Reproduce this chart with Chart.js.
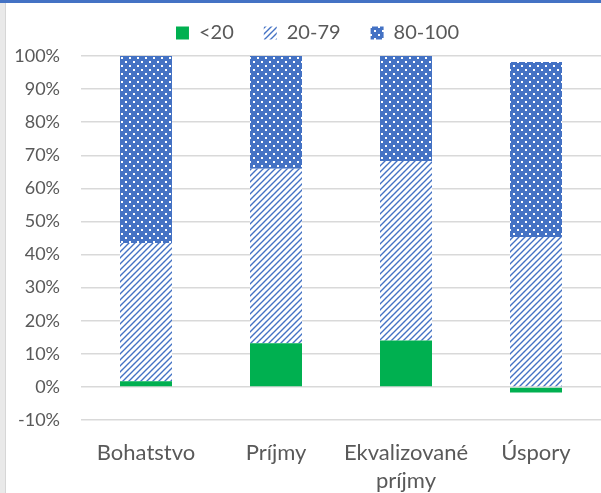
<!DOCTYPE html>
<html>
<head>
<meta charset="utf-8">
<script src="https://cdn.jsdelivr.net/npm/chart.js@4.4.1/dist/chart.umd.min.js"></script>
<style>
  html, body { margin: 0; padding: 0; background: #fff; }
  #wrap { position: relative; width: 601px; height: 493px; overflow: hidden; }
  #wrap canvas { position: absolute; left: 0; top: 0; }
  .edge-top { position: absolute; left: 0; top: 0; width: 601px; height: 3px; background: #4472C4; }
  .edge-left { position: absolute; left: 0; top: 3px; width: 5px; height: 490px; background: #e9e9e9; border-right: 1px solid #d6d6d6; }
</style>
</head>
<body>
<div id="wrap">
  <canvas id="c" width="601" height="493"></canvas>
  <div class="edge-top"></div>
  <div class="edge-left"></div>
</div>
<script>
// Categories and shares (percent) per income band
const categories = ['Bohatstvo', 'Príjmy', ['Ekvalizované', 'príjmy'], 'Úspory'];
const seriesNames = ['<20', '20-79', '80-100'];
const under20 = [1.7, 13.2, 14.0, -1.7];
const mid20to79 = [41.8, 52.7, 54.3, 45.3];
const top80to100 = [56.5, 34.1, 31.7, 52.9];
const yTicks = [-10, 0, 10, 20, 30, 40, 50, 60, 70, 80, 90, 100];

const BLUE = '#4472C4';
const GREEN = '#00B050';
const TEXT = '#595959';

// White dots on blue fill
function dotPattern() {
  const t = document.createElement('canvas');
  t.width = 8; t.height = 8;
  const g = t.getContext('2d');
  g.fillStyle = BLUE; g.fillRect(0, 0, 8, 8);
  g.fillStyle = '#ffffff';
  g.fillRect(1, 1, 2, 2);
  g.fillRect(5, 5, 2, 2);
  return g.createPattern(t, 'repeat');
}

// Blue upward diagonal stripes on white
function stripePattern() {
  const n = 6;
  const t = document.createElement('canvas');
  t.width = n; t.height = n;
  const g = t.getContext('2d');
  g.fillStyle = '#ffffff'; g.fillRect(0, 0, n, n);
  g.strokeStyle = BLUE; g.lineWidth = 1.4;
  g.beginPath();
  g.moveTo(-1, n + 1); g.lineTo(n + 1, -1);
  g.moveTo(-1, 1); g.lineTo(1, -1);
  g.moveTo(n - 1, n + 1); g.lineTo(n + 1, n - 1);
  g.stroke();
  return g.createPattern(t, 'repeat');
}

// Fixed legend band height and a small offset for where the legend row sits
const legendTweak = {
  id: 'legendTweak',
  afterInit(chart) {
    const lg = chart.legend;
    if (!lg) return;
    const fit = lg.fit;
    lg.fit = function () { fit.call(this); this.height = 56; };
    const draw = lg.draw;
    lg.draw = function (area) {
      const c = this.ctx;
      c.save();
      c.translate(17, -7);
      draw.call(this, area);
      c.restore();
    };
  }
};

const ctx = document.getElementById('c').getContext('2d');
new Chart(ctx, {
  type: 'bar',
  data: {
    labels: categories,
    datasets: [
      { label: seriesNames[0], data: under20, backgroundColor: GREEN },
      { label: seriesNames[1], data: mid20to79, backgroundColor: stripePattern() },
      { label: seriesNames[2], data: top80to100, backgroundColor: dotPattern() }
    ]
  },
  plugins: [legendTweak],
  options: {
    responsive: false,
    animation: false,
    layout: { padding: { top: 0, right: 0, left: 0, bottom: 0 } },
    datasets: { bar: { categoryPercentage: 0.4, barPercentage: 1.0, borderWidth: 0 } },
    plugins: {
      legend: {
        position: 'top',
        align: 'center',
        labels: {
          boxWidth: 13, boxHeight: 13, padding: 30,
          color: TEXT,
          font: { family: 'Lato', size: 20 }
        }
      },
      tooltip: { enabled: false }
    },
    scales: {
      x: {
        stacked: true,
        grid: { display: false },
        border: { display: false },
        ticks: { color: TEXT, font: { family: 'Lato', size: 22, lineHeight: 1.27 }, padding: 11, maxRotation: 0, autoSkip: false },
        afterFit: s => { s.height = 73; }
      },
      y: {
        stacked: true,
        min: -10, max: 100,
        afterBuildTicks: s => { s.ticks = yTicks.map(v => ({ value: v })); },
        grid: { color: '#d9d9d9', lineWidth: 1.5, drawTicks: false },
        border: { display: false },
        ticks: { color: TEXT, font: { family: 'Lato', size: 18 }, padding: 21, callback: v => v + '%' },
        afterFit: s => { s.width = 81; }
      }
    }
  }
});
</script>
</body>
</html>
